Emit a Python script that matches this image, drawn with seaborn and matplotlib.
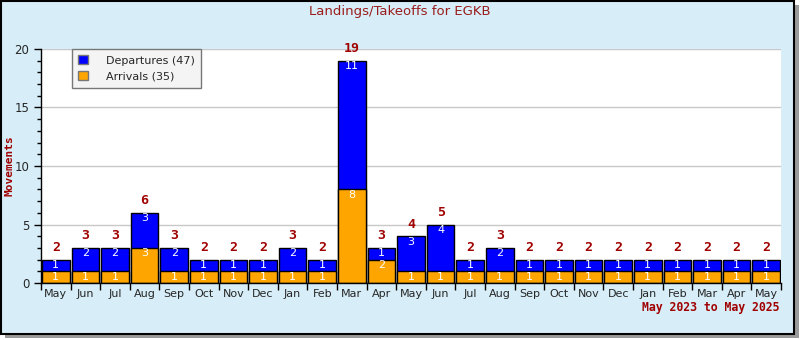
import matplotlib
matplotlib.use("Agg")
import matplotlib.pyplot as plt
import seaborn as sns
import pandas as pd
from matplotlib.patches import Rectangle, Patch
from matplotlib.ticker import MultipleLocator, FixedLocator

# Monthly movements, May 2023 .. May 2025
periods = ["2023-05", "2023-06", "2023-07", "2023-08", "2023-09", "2023-10",
           "2023-11", "2023-12", "2024-01", "2024-02", "2024-03", "2024-04",
           "2024-05", "2024-06", "2024-07", "2024-08", "2024-09", "2024-10",
           "2024-11", "2024-12", "2025-01", "2025-02", "2025-03", "2025-04",
           "2025-05"]
month_labels = ["May", "Jun", "Jul", "Aug", "Sep", "Oct", "Nov", "Dec",
                "Jan", "Feb", "Mar", "Apr", "May", "Jun", "Jul", "Aug",
                "Sep", "Oct", "Nov", "Dec", "Jan", "Feb", "Mar", "Apr", "May"]
departures = [1, 2, 2, 3, 2, 1, 1, 1, 2, 1, 11, 1, 3, 4, 1, 2,
              1, 1, 1, 1, 1, 1, 1, 1, 1]
arrivals = [1, 1, 1, 3, 1, 1, 1, 1, 1, 1, 8, 2, 1, 1, 1, 1,
            1, 1, 1, 1, 1, 1, 1, 1, 1]

df = pd.DataFrame({"period": periods, "departures": departures,
                   "arrivals": arrivals})
df["total"] = df["departures"] + df["arrivals"]

sns.set_style("white")
plt.rcParams["font.family"] = ["DejaVu Sans"]

DARK_RED = "#A00000"
BLUE = "#0000FF"
ORANGE = "#FFA500"
BG = "#D7EEF8"

W, H = 800, 340
fig = plt.figure(figsize=(W / 100, H / 100), dpi=100, facecolor="white")

# panel with drop shadow, kept behind the axes
fig.patches.append(Rectangle((5 / W, 2 / H), 794 / W, 333 / H,
                             transform=fig.transFigure, facecolor="#9A9A9A",
                             edgecolor="none", zorder=-3))
fig.patches.append(Rectangle((1 / W, 6 / H), 793 / W, 333 / H,
                             transform=fig.transFigure, facecolor=BG,
                             edgecolor="black", linewidth=1.5, zorder=-2))

ax = fig.add_axes([41 / W, (H - 283) / H, 740 / W, 234 / H])
ax.set_facecolor("white")

sns.barplot(data=df, x="period", y="total", order=periods, color=BLUE,
            saturation=1, edgecolor="black", linewidth=1, width=0.93, ax=ax,
            zorder=3)
sns.barplot(data=df, x="period", y="arrivals", order=periods, color=ORANGE,
            saturation=1, edgecolor="black", linewidth=1, width=0.93, ax=ax,
            zorder=4)

for i, row in df.iterrows():
    ax.annotate(str(row["arrivals"]), (i, row["arrivals"]), xytext=(0, -0.3),
                textcoords="offset points", ha="center", va="top",
                color="white", fontsize=8, zorder=6)
    ax.annotate(str(row["departures"]), (i, row["total"]), xytext=(0, -0.3),
                textcoords="offset points", ha="center", va="top",
                color="white", fontsize=8, zorder=6)
    ax.annotate(str(row["total"]), (i, row["total"]), xytext=(0, 4),
                textcoords="offset points", ha="center", va="bottom",
                color=DARK_RED, fontsize=9.5, fontweight="bold",
                family="DejaVu Sans Mono", zorder=6)

ax.set_xlim(-0.5, len(periods) - 0.5)
ax.set_ylim(0, 20)
ax.set_xticks(range(len(periods)))
ax.set_xticklabels(month_labels)
ax.xaxis.set_minor_locator(FixedLocator([i - 0.5 for i in range(len(periods) + 1)]))
ax.tick_params(axis="x", which="major", length=0, labelsize=8, pad=4)
ax.tick_params(axis="x", which="minor", length=5, width=1, direction="out",
               color="black", bottom=True)
ax.yaxis.set_major_locator(MultipleLocator(5))
ax.yaxis.set_minor_locator(MultipleLocator(1))
ax.tick_params(axis="y", which="major", length=5, width=1, direction="out",
               labelsize=8.5, color="black", left=True)
ax.tick_params(axis="y", which="minor", length=3, width=1, direction="out",
               color="black", left=True)
ax.yaxis.grid(True, which="major", color="#C8C8C8", linewidth=1)
ax.set_axisbelow(True)
ax.set_xlabel("")
ax.set_ylabel("")

for side in ("top", "right"):
    ax.spines[side].set_visible(False)
for side in ("left", "bottom"):
    ax.spines[side].set_color("black")
    ax.spines[side].set_linewidth(1)
    ax.spines[side].set_zorder(5)

legend_handles = [
    Patch(facecolor=BLUE, edgecolor="#777777",
          label=f"Departures ({sum(departures)})"),
    Patch(facecolor=ORANGE, edgecolor="#777777",
          label=f"Arrivals ({sum(arrivals)})"),
]
leg = ax.legend(handles=legend_handles, loc="upper left",
                bbox_to_anchor=(31 / 740, 1.0), borderaxespad=0, fontsize=8,
                frameon=True, fancybox=False, handlelength=0.9,
                handleheight=0.9, handletextpad=1.6, borderpad=0.55,
                labelspacing=0.5)
leg.get_frame().set_facecolor("#F4F4F4")
leg.get_frame().set_edgecolor("#777777")
leg.get_frame().set_alpha(1)
leg.set_zorder(7)

fig.text(0.5, 1 - 12 / H, "Landings/Takeoffs for EGKB", ha="center",
         va="center", color="#9B1C1C", fontsize=9.5)
fig.text(10 / W, 1 - 166 / H, "Movements", ha="center", va="center",
         rotation=90, color=DARK_RED, fontsize=8, fontweight="bold",
         family="DejaVu Sans Mono")
fig.text(779 / W, 1 - 307 / H, "May 2023 to May 2025", ha="right",
         va="center", color=DARK_RED, fontsize=8.3, fontweight="bold",
         family="DejaVu Sans Mono")

fig.savefig("out.png", dpi=100, facecolor=fig.get_facecolor())
